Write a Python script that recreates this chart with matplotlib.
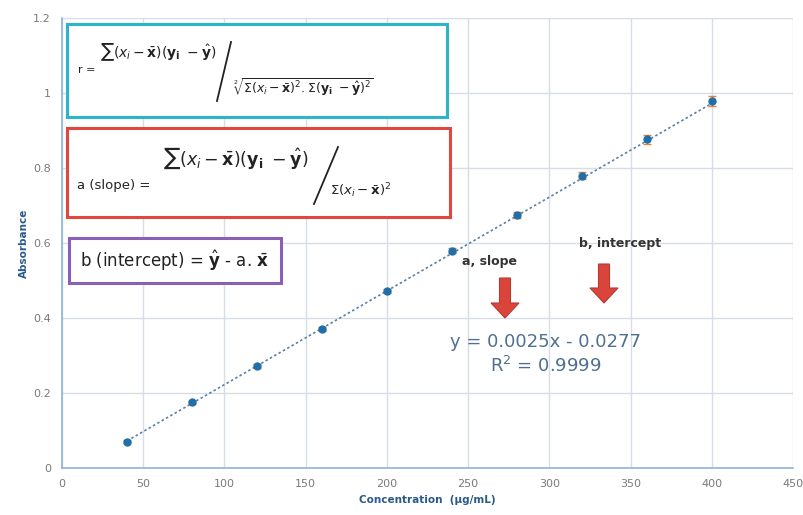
import matplotlib
matplotlib.use("Agg")
import matplotlib.pyplot as plt
from matplotlib.patches import Rectangle, FancyArrow
from matplotlib.lines import Line2D
import numpy as np

concentration = [40, 80, 120, 160, 200, 240, 280, 320, 360, 400]
absorbance = [0.070, 0.175, 0.272, 0.370, 0.472, 0.580, 0.675, 0.780, 0.877, 0.978]
errors = [0.004, 0.004, 0.005, 0.005, 0.006, 0.007, 0.008, 0.010, 0.012, 0.013]
slope = 0.0025
intercept = -0.0277
r2 = 0.9999
xticks = [0, 50, 100, 150, 200, 250, 300, 350, 400, 450]
yticks = [0, 0.2, 0.4, 0.6, 0.8, 1.0, 1.2]
yticklabels = ["0", "0.2", "0.4", "0.6", "0.8", "1", "1.2"]

W, H = 804, 515
fig = plt.figure(figsize=(W / 100, H / 100), dpi=100)
ax = fig.add_axes([62 / W, 1 - 468 / H, (793 - 62) / W, (468 - 18) / H])

ax.set_xlim(0, 450)
ax.set_ylim(0, 1.2)
ax.set_xticks(xticks)
ax.set_yticks(yticks)
ax.set_yticklabels(yticklabels)
ax.grid(True, color="#d6dde6", linewidth=1.0)
ax.set_axisbelow(True)
for s in ["top", "right"]:
    ax.spines[s].set_visible(False)
for s in ["left", "bottom"]:
    ax.spines[s].set_color("#8fb3d9")
    ax.spines[s].set_linewidth(1.2)
ax.tick_params(length=0, labelsize=8, colors="#7a7a7a", pad=8)

# trendline
xl = np.array([min(concentration), max(concentration)])
ax.plot(xl, slope * xl + intercept, linestyle=(0, (1.5, 1.5)), color="#5b7fa6", linewidth=1.2, zorder=2)
ax.errorbar(concentration, absorbance, yerr=errors, fmt="o", color="#1f6fa8",
            markersize=5, ecolor="#e8823a", elinewidth=1, capsize=3, zorder=3)

ax.set_xlabel("Concentration  (µg/mL)", fontsize=7.5, fontweight="bold", color="#2a5a8a", labelpad=4)
ax.set_ylabel("Absorbance", fontsize=7.5, fontweight="bold", color="#2a5a8a", labelpad=3)

def fx(x):
    return x / W

def fy(y):
    return 1 - y / H

def box(x0, y0, x1, y1, color):
    fig.patches.append(Rectangle((fx(x0), fy(y1)), fx(x1) - fx(x0), fy(y0) - fy(y1),
                                 transform=fig.transFigure, fill=True, facecolor="white",
                                 edgecolor=color, linewidth=2.2, zorder=5))

def slash(x0, y0, x1, y1):
    fig.lines.append(Line2D([fx(x0), fx(x1)], [fy(y0), fy(y1)], transform=fig.transFigure,
                            color="#222222", linewidth=1.3, zorder=6))

box(67, 24, 447, 117, "#2bb5c9")
box(67, 128, 450, 217, "#e0483f")
box(69, 238, 281, 283, "#8a5fb8")

tc = "#222222"
# r formula
fig.text(fx(78), fy(70), "r =", fontsize=8, color=tc, va="center", zorder=6)
fig.text(fx(100), fy(52), r"$\sum(x_i-\bar{\mathbf{x}})(\mathbf{y_i}\ -\hat{\mathbf{y}})$", fontsize=10, color=tc, va="center", zorder=6)
slash(217, 101, 231, 42)
fig.text(fx(233), fy(87), r"$\sqrt[2]{\Sigma(x_i-\bar{\mathbf{x}})^2.\Sigma(\mathbf{y_i}\ -\hat{\mathbf{y}})^2}$", fontsize=9, color=tc, va="center", zorder=6)

# slope formula
fig.text(fx(77), fy(185), "a (slope) =", fontsize=9.5, color=tc, va="center", zorder=6)
fig.text(fx(163), fy(158), r"$\sum(x_i-\bar{\mathbf{x}})(\mathbf{y_i}\ -\hat{\mathbf{y}})$", fontsize=12.5, color=tc, va="center", zorder=6)
slash(314, 204, 338, 147)
fig.text(fx(330), fy(191), r"$\Sigma(x_i-\bar{\mathbf{x}})^2$", fontsize=9.5, color=tc, va="center", zorder=6)

# intercept formula
fig.text(fx(80), fy(261), r"b (intercept) = $\hat{\mathbf{y}}$ - a. $\bar{\mathbf{x}}$", fontsize=12, color=tc, va="center", zorder=6)

# annotations
fig.text(fx(490), fy(262), "a, slope", fontsize=9, fontweight="bold", color="#333333", ha="center", va="center")
fig.text(fx(620), fy(244), "b, intercept", fontsize=9, fontweight="bold", color="#333333", ha="center", va="center")

def arrow(xc, ytop, ybot):
    length = (ybot - ytop)
    a = FancyArrow(fx(xc), fy(ytop), 0, -(length / H), width=11 / W, head_width=28 / W,
                   head_length=15 / H, length_includes_head=True, transform=fig.transFigure,
                   facecolor="#d9453b", edgecolor="#b83a31", linewidth=0.8, zorder=6)
    fig.patches.append(a)

arrow(505, 278, 318)
arrow(604, 264, 303)

eq_color = "#4f6f92"
fig.text(fx(546), fy(342), "y = 0.0025x - 0.0277", fontsize=13, color=eq_color, ha="center", va="center")
fig.text(fx(546), fy(366), "R$^2$ = 0.9999", fontsize=13, color=eq_color, ha="center", va="center")

fig.savefig("out.png", dpi=100)
